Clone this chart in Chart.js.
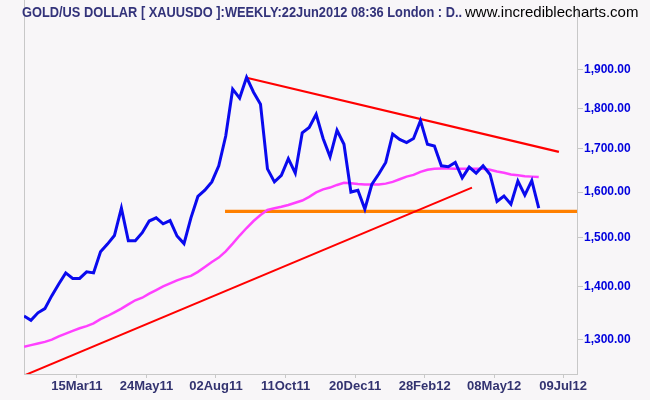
<!DOCTYPE html>
<html>
<head>
<meta charset="utf-8">
<script src="https://cdn.jsdelivr.net/npm/chart.js@4.4.1/dist/chart.umd.min.js"></script>
<style>
  html, body { margin: 0; padding: 0; background: #f8f6f8; }
  canvas { display: block; }
</style>
</head>
<body>
<canvas id="chart" width="650" height="400"></canvas>
<script>
// weekly closes, gold in USD, week 0 = late Jan 2011
const closes = [
  1344, 1336, 1350, 1358, 1383, 1406, 1428, 1417, 1417, 1430,
  1428, 1471, 1487, 1505, 1564, 1494, 1494, 1511, 1536, 1543,
  1530, 1537, 1504, 1488, 1543, 1590, 1604, 1623, 1660, 1731,
  1849, 1826, 1880, 1841, 1810, 1653, 1623, 1638, 1677, 1643,
  1739, 1752, 1785, 1725, 1681, 1745, 1711, 1600, 1604, 1562,
  1617, 1641, 1668, 1736, 1723, 1715, 1725, 1769, 1711, 1707,
  1660, 1658, 1668, 1632, 1657, 1643, 1660, 1640, 1579, 1591,
  1573, 1625, 1593, 1626, 1564
]
// moving average (magenta)
const movingAvg = [
  1287, 1290, 1293, 1296, 1300, 1306, 1311, 1316, 1321, 1325,
  1330, 1338, 1344, 1351, 1358, 1366, 1374, 1379, 1387, 1394,
  1401, 1407, 1413, 1418, 1422, 1430, 1440, 1450, 1459, 1472,
  1488, 1505, 1521, 1536, 1549, 1560, 1564, 1567, 1571, 1576,
  1581, 1589, 1599, 1606, 1610, 1616, 1621, 1620, 1618, 1617,
  1617, 1617, 1619, 1623, 1629, 1635, 1639, 1646, 1651, 1653,
  1654, 1654, 1653, 1653, 1653, 1653, 1653, 1651, 1647, 1644,
  1640, 1638, 1636, 1635, 1634
]

// trend lines drawn by hand on the original: [week, price]
const upperTrend = [[32, 1879], [76.9, 1693]]
const lowerTrend = [[0, 1236], [64.4, 1610]]
const supportLine = [[28.9, 1557], [79.5, 1557]]

const xTickWeeks = [7.6, 17.6, 27.6, 37.6, 47.6, 57.6, 67.6, 77.5]
const xTickLabels = ['15Mar11', '24May11', '02Aug11', '11Oct11', '20Dec11', '28Feb12', '08May12', '09Jul12']
const yTicks = [1300, 1400, 1500, 1600, 1700, 1800, 1900]

const titleText = 'GOLD/US DOLLAR [ XAUUSDO ]:WEEKLY:22Jun2012 08:36 London : D..'
const siteText = 'www.incrediblecharts.com'

const toPoints = arr => arr.map((v, i) => ({ x: i, y: v }))
const pairPoints = arr => arr.map(p => ({ x: p[0], y: p[1] }))

const sans = "'Liberation Sans', Arial, sans-serif"

const frameAndTitle = {
  id: 'frameAndTitle',
  beforeDatasetsDraw(chart) {
    const { ctx, chartArea } = chart
    ctx.save()
    ctx.strokeStyle = '#c8c8c8'
    ctx.lineWidth = 1
    ctx.beginPath()
    ctx.moveTo(chartArea.left + 0.5, 0)
    ctx.lineTo(chartArea.left + 0.5, chartArea.bottom)
    ctx.stroke()
    ctx.restore()
  },
  afterDraw(chart) {
    const ctx = chart.ctx
    ctx.save()
    ctx.textBaseline = 'alphabetic'
    // the original uses a condensed face, squeeze it with maxWidth
    ctx.font = 'bold 15px ' + sans
    ctx.fillStyle = '#33337a'
    ctx.fillText(titleText, 22, 17, 440)
    ctx.font = '15px ' + sans
    ctx.fillStyle = '#000000'
    ctx.fillText(siteText, 465, 17, 179)
    ctx.restore()
  }
}

const lineSet = (data, color, width) => ({
  data: data,
  borderColor: color,
  borderWidth: width,
  pointRadius: 0,
  fill: false,
  tension: 0
})

const ctx = document.getElementById('chart').getContext('2d')
new Chart(ctx, {
  type: 'line',
  data: {
    datasets: [
      lineSet(toPoints(closes), '#0a0aee', 3),
      lineSet(toPoints(movingAvg), '#ff40ff', 2.5),
      lineSet(pairPoints(upperTrend), '#ff0000', 2.2),
      lineSet(pairPoints(lowerTrend), '#ff0000', 2),
      lineSet(pairPoints(supportLine), '#ff8000', 3.2)
    ]
  },
  options: {
    responsive: false,
    animation: false,
    layout: { padding: { left: 24, top: 1, right: 0, bottom: 0 } },
    plugins: {
      legend: { display: false },
      tooltip: { enabled: false },
      title: { display: false }
    },
    scales: {
      x: {
        type: 'linear',
        min: 0,
        max: 79.5,
        afterBuildTicks: scale => { scale.ticks = xTickWeeks.map(v => ({ value: v })) },
        afterFit: scale => { scale.height = 26 },
        ticks: {
          autoSkip: false,
          maxRotation: 0,
          padding: 1,
          color: '#333370',
          font: { family: sans, size: 13, weight: 'bold' },
          callback: (val, idx) => xTickLabels[idx]
        },
        grid: { drawOnChartArea: false, tickLength: 4, color: '#c8c8c8' },
        border: { color: '#c8c8c8' }
      },
      y: {
        type: 'logarithmic',
        position: 'right',
        min: 1238.7,
        max: 2072,
        afterBuildTicks: scale => { scale.ticks = yTicks.map(v => ({ value: v })) },
        afterFit: scale => { scale.width = 73 },
        ticks: {
          padding: 1,
          color: '#0000dd',
          font: { family: sans, size: 12, weight: 'bold' },
          callback: v => v.toLocaleString('en-US', { minimumFractionDigits: 2, maximumFractionDigits: 2 })
        },
        grid: { drawOnChartArea: false, tickLength: 6, color: '#c8c8c8' },
        border: { color: '#c8c8c8' }
      }
    }
  },
  plugins: [frameAndTitle]
})
</script>
</body>
</html>
